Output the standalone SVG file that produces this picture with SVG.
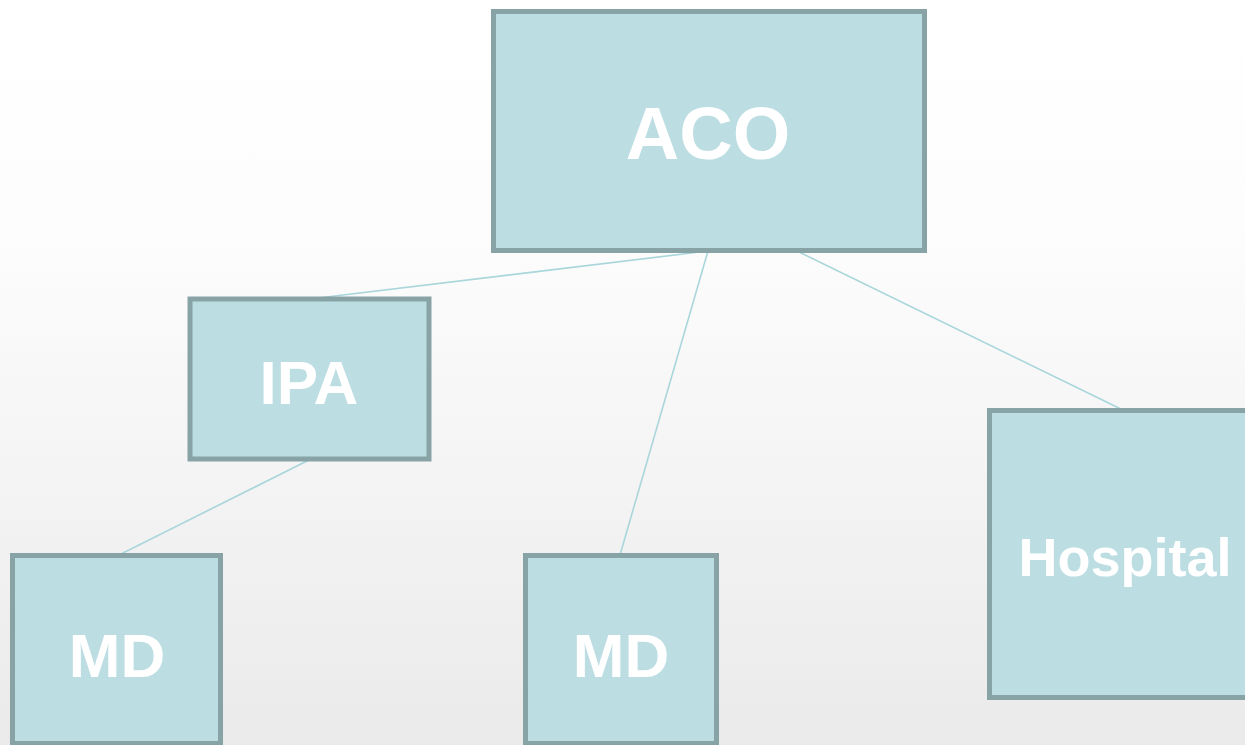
<svg xmlns="http://www.w3.org/2000/svg" width="1245" height="745" viewBox="0 0 1245 745">
<defs>
<linearGradient id="bg" x1="0" y1="0" x2="0" y2="1">
<stop offset="0" stop-color="#ffffff"/>
<stop offset="0.3" stop-color="#fdfdfd"/>
<stop offset="0.6" stop-color="#f6f5f6"/>
<stop offset="1" stop-color="#eaeaea"/>
</linearGradient>
<style>
.box{fill:#bcdee3;stroke:#87a3a5;stroke-width:5}
.lbl{fill:#ffffff;font-family:"Liberation Sans",Arial,sans-serif;font-weight:bold;text-anchor:middle}
.conn{stroke:#a9d6db;stroke-width:1.6;fill:none}
</style>
</defs>
<rect x="0" y="0" width="1245" height="745" fill="url(#bg)"/>
<g id="connectors">
<line class="conn" x1="708" y1="251" x2="310" y2="299"/>
<line class="conn" x1="708" y1="251" x2="620" y2="555"/>
<line class="conn" x1="797" y1="251" x2="1125" y2="411"/>
<line class="conn" x1="309" y1="460" x2="117" y2="556"/>
</g>
<g id="aco">
<rect class="box" x="493.5" y="11.5" width="431" height="239"/>
<text class="lbl" x="708" y="159" font-size="74">ACO</text>
</g>
<g id="ipa">
<rect class="box" x="190" y="299" width="239" height="160"/>
<text class="lbl" x="309" y="404" font-size="62">IPA</text>
</g>
<g id="md1">
<rect class="box" x="12.5" y="555.5" width="208" height="188"/>
<text class="lbl" x="117" y="677" font-size="62">MD</text>
</g>
<g id="md2">
<rect class="box" x="525.5" y="555.5" width="191" height="188"/>
<text class="lbl" x="621" y="677" font-size="62">MD</text>
</g>
<g id="hospital">
<rect class="box" x="989.5" y="410.5" width="270" height="287"/>
<text class="lbl" x="1125" y="576" font-size="54">Hospital</text>
</g>
</svg>
